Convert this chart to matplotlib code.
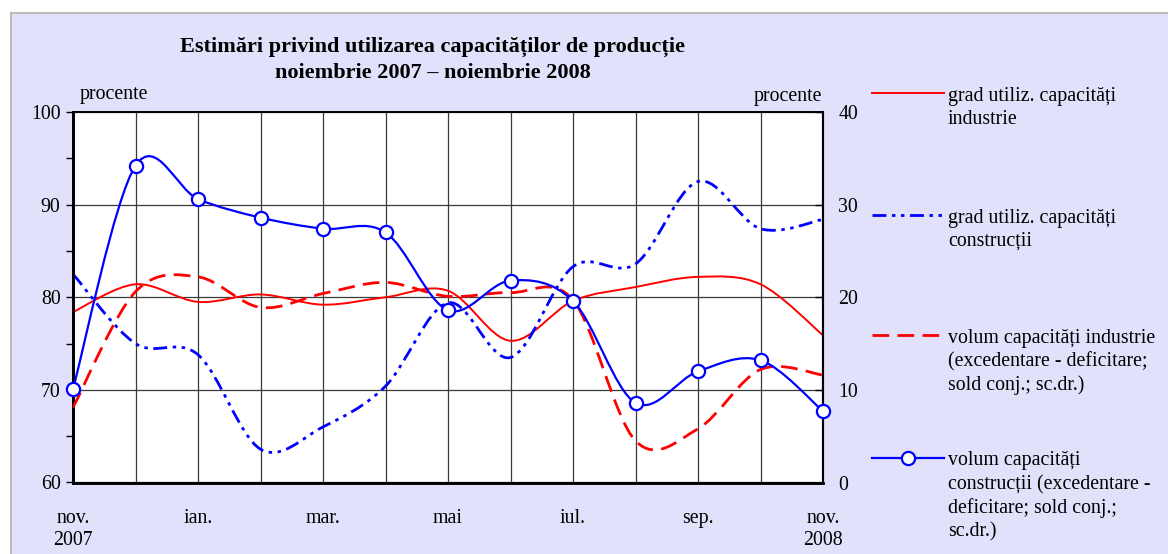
import matplotlib
matplotlib.use('Agg')
import matplotlib.pyplot as plt
from matplotlib.path import Path
from matplotlib.patches import PathPatch, Rectangle
from matplotlib.lines import Line2D
import numpy as np

plt.rcParams['font.family'] = ['Liberation Serif', 'DejaVu Serif']
plt.rcParams['lines.scale_dashes'] = False

# monthly values, nov 2007 .. nov 2008
month_labels = ['nov.\n2007', '', 'ian.', '', 'mar.', '', 'mai', '', 'iul.', '', 'sep.', '', 'nov.\n2008']
grad_ind = [78.4, 81.4, 79.5, 80.3, 79.2, 80.0, 80.7, 75.3, 79.6, 81.1, 82.2, 81.4, 75.9]       # left axis
grad_constr = [82.5, 75.0, 73.8, 63.6, 66.0, 70.4, 79.4, 73.5, 83.3, 83.6, 92.5, 87.4, 88.4]   # left axis
vol_ind = [8.1, 20.6, 22.2, 18.9, 20.4, 21.6, 20.1, 20.5, 19.7, 4.5, 5.8, 12.2, 11.6]          # right axis
vol_constr = [10.1, 34.2, 30.6, 28.6, 27.4, 27.0, 18.6, 21.8, 19.6, 8.6, 12.0, 13.2, 7.7]      # right axis

left_ticks = [60, 70, 80, 90, 100]
right_ticks = [0, 10, 20, 30, 40]

title = ['Estimări privind utilizarea capacităților de producție', 'noiembrie 2007 – noiembrie 2008']
legend_labels = [
    ['grad utiliz. capacități', 'industrie'],
    ['grad utiliz. capacități', 'construcții'],
    ['volum capacități industrie', '(excedentare - deficitare;', 'sold conj.; sc.dr.)'],
    ['volum capacități', 'construcții (excedentare -', 'deficitare; sold conj.;', 'sc.dr.)'],
]

W, H = 1168, 554
RED = '#ff0000'
BLUE = '#0000ff'
DASH = (0, (12, 6))
DASHDOT = (0, (10, 4, 2.5, 4, 2.5, 4))
FS = 14.3


def smooth_path(xs, ys):
    # excel-style smoothed line: cubic bezier through every point
    pts = np.column_stack([xs, ys]).astype(float)
    ext = np.vstack([pts[0], pts, pts[-1]])
    verts = [pts[0]]
    codes = [Path.MOVETO]
    for i in range(len(pts) - 1):
        p0, p1, p2, p3 = ext[i], ext[i + 1], ext[i + 2], ext[i + 3]
        verts += [p1 + (p2 - p0) / 6, p2 - (p3 - p1) / 6, p2]
        codes += [Path.CURVE4] * 3
    return Path(verts, codes)


def px(x, y):
    return x / W, 1 - y / H


fig = plt.figure(figsize=(W / 100, H / 100), dpi=100)
fig.patch.set_facecolor('white')
fig.add_artist(Rectangle(px(11, H + 5), 1.2, (H - 13 + 5) / H, transform=fig.transFigure,
                         facecolor='#e1e1fb', edgecolor='#bcbcbc', lw=1.5, zorder=-10))

l, b = px(73, 482.5)
ax = fig.add_axes([l, b, (823 - 73) / W, (482.5 - 112) / H])
ax.set_facecolor('white')
x = np.arange(len(grad_ind))
ax.set_xlim(0, len(x) - 1)
ax.set_ylim(60, 100)
ax.set_xticks(x)
ax.set_xticklabels(month_labels, linespacing=1.2)
ax.set_yticks(left_ticks)
ax.set_yticks([65, 75, 85, 95], minor=True)
ax.tick_params(axis='x', length=0, pad=19, labelsize=FS)
ax.tick_params(axis='y', which='both', direction='out', length=5, width=1, pad=4, labelsize=FS)
ax.grid(True, which='major', color='#3a3a3a', lw=0.9)
ax.set_axisbelow(True)

ax.add_patch(PathPatch(smooth_path(x, grad_ind), fill=False, ec=RED, lw=1.4, zorder=3))
ax.add_patch(PathPatch(smooth_path(x, grad_constr), fill=False, ec=BLUE, lw=2.0, ls=DASHDOT, zorder=3))

ax2 = ax.twinx()
ax2.set_ylim(0, 40)
ax2.set_yticks(right_ticks)
ax2.tick_params(axis='y', direction='in', length=6, width=1, pad=11, labelsize=FS)
ax2.add_patch(PathPatch(smooth_path(x, vol_ind), fill=False, ec=RED, lw=2.0, ls=DASH, zorder=3))
ax2.add_patch(PathPatch(smooth_path(x, vol_constr), fill=False, ec=BLUE, lw=1.6, zorder=4))
ax2.plot(x, vol_constr, ls='none', marker='o', ms=9.5, mfc='white', mec=BLUE, mew=1.6,
         clip_on=False, zorder=5)

for a in (ax, ax2):
    for side, w in [('left', 2.0), ('bottom', 1.8), ('top', 1.2), ('right', 1.5)]:
        a.spines[side].set_color('black')
        a.spines[side].set_linewidth(w)

fig.text(*px(433, 47), title[0], ha='center', va='center', fontsize=16, fontweight='bold')
fig.text(*px(433, 73), title[1], ha='center', va='center', fontsize=16, fontweight='bold')
fig.text(*px(80, 94), 'procente', ha='left', va='center', fontsize=FS)
fig.text(*px(822, 96), 'procente', ha='right', va='center', fontsize=FS)

# legend drawn by hand to the right of the plot
styles = [
    dict(color=RED, lw=1.4),
    dict(color=BLUE, lw=2.0, ls=DASHDOT),
    dict(color=RED, lw=2.0, ls=DASH),
    dict(color=BLUE, lw=1.6),
]
line_y = [93, 215, 335, 458]
for lab, st, y0 in zip(legend_labels, styles, line_y):
    fig.add_artist(Line2D([872 / W, 944 / W], [1 - y0 / H] * 2, transform=fig.transFigure, **st))
    for k, t in enumerate(lab):
        fig.text(*px(948, y0 + 3 + 23.5 * k), t, ha='left', va='center', fontsize=FS)
fig.add_artist(Line2D([908 / W], [1 - line_y[3] / H], transform=fig.transFigure, ls='none', marker='o',
                      ms=9.5, mfc='white', mec=BLUE, mew=1.6))

fig.savefig('out.png', dpi=100)
